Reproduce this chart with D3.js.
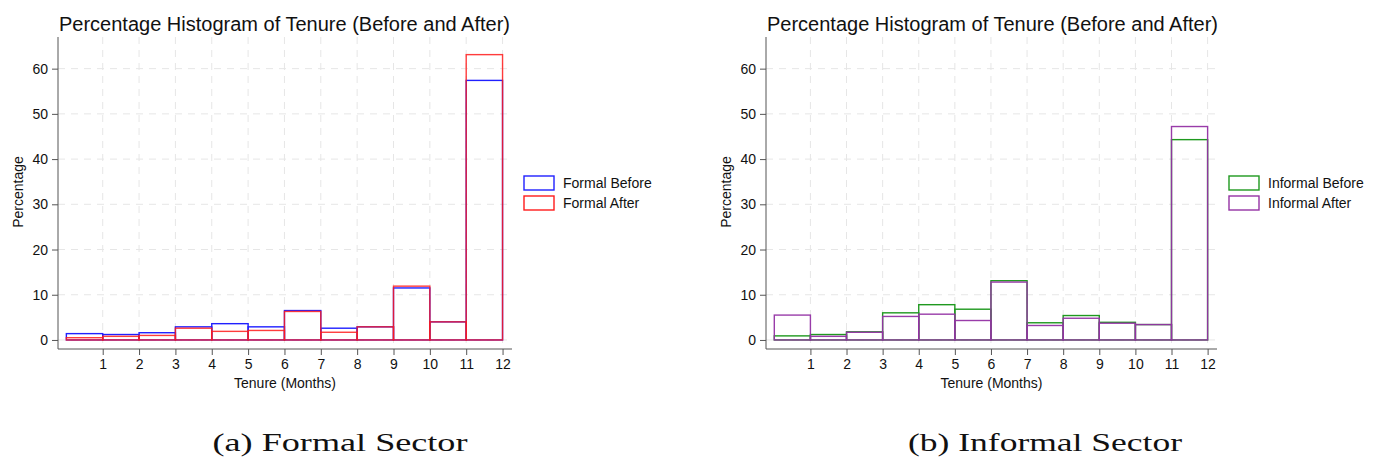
<!DOCTYPE html>
<html>
<head>
<meta charset="utf-8">
<script src="https://cdn.jsdelivr.net/npm/d3@7"></script>
<style>
  body { margin: 0; background: #fff; }
  svg { display: block; }
  text { font-family: "Liberation Sans", Arial, sans-serif; fill: #111; }
</style>
</head>
<body>
<div id="chart"></div>
<script>
// Bin starts (months) and percentages
const binStarts = [0, 1, 2, 3, 4, 5, 6, 7, 8, 9, 10, 11];
const xTicks = [1, 2, 3, 4, 5, 6, 7, 8, 9, 10, 11, 12];
const yTicks = [0, 10, 20, 30, 40, 50, 60];

const formalBefore = [1.4, 1.2, 1.6, 2.9, 3.6, 2.9, 6.5, 2.6, 2.9, 11.5, 4.0, 57.4];
const formalAfter = [0.5, 0.8, 1.0, 2.6, 1.9, 2.1, 6.3, 1.7, 2.9, 11.9, 4.0, 63.1];
const informalBefore = [0.9, 1.2, 1.8, 6.0, 7.8, 6.8, 13.1, 3.8, 5.4, 3.9, 3.4, 44.3];
const informalAfter = [5.5, 0.8, 1.7, 5.2, 5.7, 4.3, 12.8, 3.2, 4.8, 3.7, 3.4, 47.2];

const titleText = "Percentage Histogram of Tenure (Before and After)";

const panels = [
    {
        left: 58, right: 512, caption: "(a) Formal Sector", capX: 340, capW: 255,
        series: [
            { name: "Formal Before", values: formalBefore, color: "#2020ff", op: 1 },
            { name: "Formal After", values: formalAfter, color: "#ff1a1a", op: 0.85 }
        ]
    },
    {
        left: 766, right: 1217, caption: "(b) Informal Sector", capX: 1045, capW: 274,
        series: [
            { name: "Informal Before", values: informalBefore, color: "#1f991f", op: 1 },
            { name: "Informal After", values: informalAfter, color: "#9432a4", op: 0.95 }
        ]
    }
];

const width = 1374, height = 468;
const plotTop = 37, plotBottom = 349;

const svg = d3.select("#chart").append("svg")
    .attr("width", width)
    .attr("height", height);

svg.append("rect").attr("width", width).attr("height", height).attr("fill", "#fff");

panels.forEach(p => {
    const x = d3.scaleLinear().domain([-0.23, 12.26]).range([p.left, p.right]);
    const y = d3.scaleLinear().domain([-2, 67]).range([plotBottom, plotTop]);
    const g = svg.append("g");

    // dashed grid
    g.selectAll(".hgrid").data(yTicks).enter().append("line")
        .attr("x1", p.left).attr("x2", p.right)
        .attr("y1", d => y(d)).attr("y2", d => y(d))
        .attr("stroke", "#e6e6e6").attr("stroke-dasharray", "7,6");
    g.selectAll(".vgrid").data(xTicks).enter().append("line")
        .attr("x1", d => x(d)).attr("x2", d => x(d))
        .attr("y1", plotTop).attr("y2", plotBottom)
        .attr("stroke", "#e6e6e6").attr("stroke-dasharray", "7,6");

    // axes
    const yAxis = g.append("g")
        .attr("transform", `translate(${p.left},0)`)
        .call(d3.axisLeft(y).tickValues(yTicks).tickSize(6).tickPadding(4));
    const xAxis = g.append("g")
        .attr("transform", `translate(0,${plotBottom})`)
        .call(d3.axisBottom(x).tickValues(xTicks).tickSize(6).tickPadding(4));
    [yAxis, xAxis].forEach(a => {
        a.select(".domain").attr("stroke", "#555");
        a.selectAll(".tick line").attr("stroke", "#555");
        a.selectAll(".tick text")
            .style("font-family", "'Liberation Sans', Arial, sans-serif")
            .style("font-size", "14px").attr("fill", "#111");
    });
    // trim the domain path to plain lines
    yAxis.select(".domain").attr("d", `M0,${plotTop}V${plotBottom}`);
    xAxis.select(".domain").attr("d", `M${p.left},0H${p.right}`);

    // histogram bars (outline only)
    p.series.forEach(s => {
        g.selectAll(null).data(binStarts).enter().append("rect")
            .attr("x", d => x(d))
            .attr("width", d => x(d + 1) - x(d))
            .attr("y", (d, i) => y(s.values[i]))
            .attr("height", (d, i) => y(0) - y(s.values[i]))
            .attr("fill", "none")
            .attr("stroke", s.color)
            .attr("stroke-opacity", s.op)
            .attr("stroke-width", 1.4);
    });

    // title
    g.append("text")
        .attr("x", p.left + 1).attr("y", 31)
        .style("font-size", "20px")
        .text(titleText);

    // axis titles
    g.append("text")
        .attr("transform", `translate(${p.left - 35},${(plotTop + plotBottom) / 2 - 1}) rotate(-90)`)
        .attr("text-anchor", "middle")
        .style("font-size", "14px")
        .text("Percentage");
    g.append("text")
        .attr("x", (p.left + p.right) / 2).attr("y", 388)
        .attr("text-anchor", "middle")
        .style("font-size", "14px")
        .text("Tenure (Months)");

    // legend
    const leg = g.append("g").attr("transform", `translate(${p.right + 12},176)`);
    p.series.forEach((s, i) => {
        leg.append("rect")
            .attr("x", 0).attr("y", i * 20)
            .attr("width", 30).attr("height", 14)
            .attr("fill", "#fff")
            .attr("stroke", s.color).attr("stroke-width", 1.4);
        leg.append("text")
            .attr("x", 39).attr("y", i * 20 + 12)
            .style("font-size", "14px")
            .text(s.name);
    });

    // caption
    svg.append("text")
        .attr("x", p.capX).attr("y", 451)
        .attr("text-anchor", "middle")
        .attr("textLength", p.capW)
        .attr("lengthAdjust", "spacingAndGlyphs")
        .style("font-family", "'Liberation Serif', 'Times New Roman', serif")
        .style("font-size", "25px")
        .attr("fill", "#222")
        .text(p.caption);
});
</script>
</body>
</html>
